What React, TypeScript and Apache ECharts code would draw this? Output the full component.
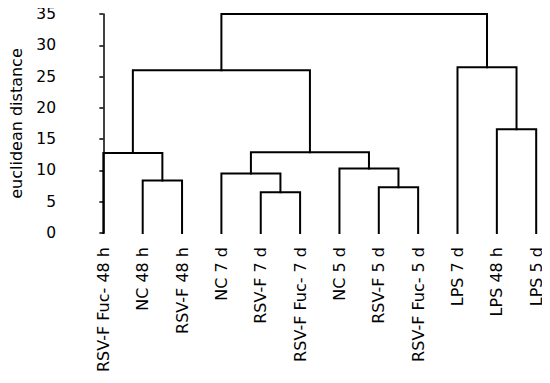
import React, { useEffect, useRef } from "react";
import * as echarts from "echarts";

const leafNames = [
  "RSV-F Fuc- 48 h",
  "NC 48 h",
  "RSV-F 48 h",
  "NC 7 d",
  "RSV-F 7 d",
  "RSV-F Fuc- 7 d",
  "NC 5 d",
  "RSV-F 5 d",
  "RSV-F Fuc- 5 d",
  "LPS 7 d",
  "LPS 48 h",
  "LPS 5 d",
];

// linkage: node ids 0..11 are leaves, 12+ are merges in order
const mergeLeft = [1, 0, 4, 3, 7, 6, 15, 13, 10, 9, 19];
const mergeRight = [2, 12, 5, 14, 8, 16, 17, 18, 11, 20, 21];
const mergeHeight = [8.4, 12.8, 6.5, 9.5, 7.3, 10.3, 12.9, 26.0, 16.6, 26.5, 35.0];

const yTicks = [0, 5, 10, 15, 20, 25, 30, 35];

export default function App() {
  const ref = useRef<HTMLDivElement>(null);

  useEffect(() => {
    if (!ref.current) return;
    const chart = echarts.init(ref.current, undefined, { renderer: "svg" });

    const nLeaves = leafNames.length;
    const nodeX: number[] = [];
    const nodeH: number[] = [];
    for (let i = 0; i < nLeaves; i++) {
      nodeX.push(i);
      nodeH.push(0);
    }
    const series: any[] = [];
    for (let k = 0; k < mergeLeft.length; k++) {
      const l = mergeLeft[k];
      const r = mergeRight[k];
      const h = mergeHeight[k];
      const xl = nodeX[l];
      const xr = nodeX[r];
      series.push({
        type: "line",
        xAxisIndex: 0,
        yAxisIndex: 0,
        data: [
          [xl, nodeH[l]],
          [xl, h],
          [xr, h],
          [xr, nodeH[r]],
        ],
        showSymbol: false,
        symbol: "none",
        clip: false,
        lineStyle: { color: "#000", width: 2, cap: "square", join: "miter" },
        silent: true,
      });
      nodeX.push((xl + xr) / 2);
      nodeH.push(h);
    }

    chart.setOption({
      animation: false,
      backgroundColor: "#fff",
      textStyle: { fontFamily: "DejaVu Sans" },
      grid: { left: 58.5, right: 2, top: 14, bottom: 150, containLabel: false },
      xAxis: {
        type: "value",
        min: -1,
        max: 11.3,
        interval: 1,
        axisLine: { show: false },
        axisTick: { show: false },
        splitLine: { show: false },
        axisLabel: {
          rotate: 90,
          margin: 14,
          fontSize: 16,
          color: "#000",
          fontFamily: "DejaVu Sans",
          showMaxLabel: false,
          showMinLabel: false,
          formatter: (v: number) => {
            const i = Math.round(v);
            if (Math.abs(v - i) > 1e-6 || i < 0 || i >= leafNames.length) return "";
            return leafNames[i];
          },
        },
      },
      yAxis: {
        type: "value",
        min: 0,
        max: 35,
        interval: 5,
        name: "euclidean distance",
        nameLocation: "middle",
        nameGap: 40,
        nameTextStyle: { fontSize: 16, color: "#000", fontFamily: "DejaVu Sans" },
        axisLine: { show: true, lineStyle: { color: "#000", width: 1.5 } },
        axisTick: { show: true, length: 4, lineStyle: { color: "#000", width: 1.5 } },
        splitLine: { show: false },
        axisLabel: {
          fontSize: 15.5,
          color: "#000",
          margin: 8,
          fontFamily: "DejaVu Sans",
          formatter: (v: number) => (yTicks.includes(v) ? String(v) : ""),
        },
      },
      series,
    });

    return () => chart.dispose();
  }, []);

  return <div ref={ref} style={{ width: 550, height: 383, margin: -8 }} />;
}
